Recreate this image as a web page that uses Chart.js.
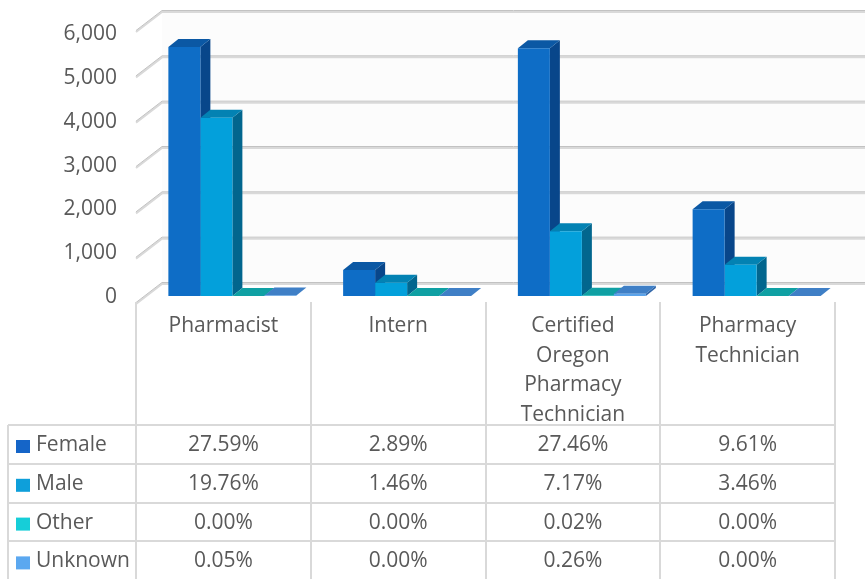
<!DOCTYPE html>
<html>
<head>
<meta charset="utf-8">
<script src="https://cdn.jsdelivr.net/npm/chart.js@4/dist/chart.umd.min.js"></script>
<style>
  html, body { margin: 0; padding: 0; background: #ffffff; }
  #wrap { width: 865px; height: 579px; }
</style>
</head>
<body>
<div id="wrap"><canvas id="c" width="865" height="579"></canvas></div>
<script>
// ---- Data ----
const categories = ['Pharmacist', 'Intern', 'Certified Oregon Pharmacy Technician', 'Pharmacy Technician'];
const categoryLines = [['Pharmacist'], ['Intern'], ['Certified', 'Oregon', 'Pharmacy', 'Technician'], ['Pharmacy', 'Technician']];
const seriesNames = ['Female', 'Male', 'Other', 'Unknown'];
const femaleCounts = [5493, 575, 5467, 1913];
const maleCounts = [3934, 291, 1428, 689];
const otherCounts = [0, 0, 4, 0];
const unknownCounts = [10, 0, 52, 0];
const femalePct = ['27.59%', '2.89%', '27.46%', '9.61%'];
const malePct = ['19.76%', '1.46%', '7.17%', '3.46%'];
const otherPct = ['0.00%', '0.00%', '0.02%', '0.00%'];
const unknownPct = ['0.05%', '0.00%', '0.26%', '0.00%'];
const yTicks = [0, 1000, 2000, 3000, 4000, 5000, 6000];

// ---- Styles ----
const frontColors = ['#0E6DC6', '#03A0DB', '#14C8D2', '#5BA3EA'];
const topColors = ['#0B58A4', '#0382B3', '#0FA0A3', '#3F7FC6'];
const sideColors = ['#08468A', '#02668E', '#0B7E85', '#2F65A8'];
const legendColors = ['#1565C8', '#0E9FDA', '#16CED8', '#5BA8F0'];
const pctRows = [femalePct, malePct, otherPct, unknownPct];
const countSeries = [femaleCounts, maleCounts, otherCounts, unknownCounts];

const TEXT = '#595959';
const GRID = '#d9d9d9';
const GRID_DARK = '#c2c2c2';
const FONT = '21px "Open Sans"';
const DEPTH = { dx: 10, dy: 8 };     // bar depth
const BACK = { dx: 17, dy: 13 };     // back wall offset from bar plane
const FRONT = { dx: -9, dy: 7 };     // front plane offset from bar plane

function poly(ctx, pts, color) {
  ctx.beginPath();
  ctx.moveTo(pts[0][0], pts[0][1]);
  for (let k = 1; k < pts.length; k++) ctx.lineTo(pts[k][0], pts[k][1]);
  ctx.closePath();
  ctx.fillStyle = color;
  ctx.fill();
}

const threeD = {
  id: 'threeD',
  beforeDatasetsDraw(chart) {
    const ctx = chart.ctx, area = chart.chartArea, ys = chart.scales.y;
    ctx.save();
    // faint back wall
    const yTop = ys.getPixelForValue(yTicks[yTicks.length - 1]) - BACK.dy;
    const yBot = ys.getPixelForValue(0) - BACK.dy;
    ctx.fillStyle = '#fcfcfc';
    ctx.fillRect(area.left + BACK.dx, yTop, chart.width - area.left - BACK.dx, yBot - yTop);
    // back wall gridlines + left wall slants
    yTicks.forEach(v => {
      const y = ys.getPixelForValue(v);
      ctx.lineWidth = 2;
      ctx.strokeStyle = GRID;
      ctx.beginPath();
      ctx.moveTo(area.left + FRONT.dx, y + FRONT.dy + 1);
      ctx.lineTo(area.left + BACK.dx, y - BACK.dy + 1);
      ctx.lineTo(chart.width, y - BACK.dy + 1);
      ctx.stroke();
      ctx.lineWidth = 1;
      ctx.strokeStyle = GRID_DARK;
      ctx.beginPath();
      ctx.moveTo(area.left + FRONT.dx, y + FRONT.dy - 0.5);
      ctx.lineTo(area.left + BACK.dx, y - BACK.dy - 0.5);
      ctx.lineTo(chart.width, y - BACK.dy - 0.5);
      ctx.stroke();
    });
    // side + top faces, in drawing order
    for (let i = 0; i < categories.length; i++) {
      for (let j = 0; j < chart.data.datasets.length; j++) {
        const el = chart.getDatasetMeta(j).data[i];
        const p = el.getProps(['x', 'y', 'base', 'width'], true);
        const l = p.x - p.width / 2, r = p.x + p.width / 2;
        if (p.base - p.y > 0.5) {
          poly(ctx, [[r, p.y], [r + DEPTH.dx, p.y - DEPTH.dy], [r + DEPTH.dx, p.base - DEPTH.dy], [r, p.base]], sideColors[j]);
        }
        poly(ctx, [[l, p.y], [r, p.y], [r + DEPTH.dx, p.y - DEPTH.dy], [l + DEPTH.dx, p.y - DEPTH.dy]], topColors[j]);
      }
    }
    ctx.restore();
  },
  afterDraw(chart) {
    const ctx = chart.ctx, area = chart.chartArea, ys = chart.scales.y, xs = chart.scales.x;
    const y0 = ys.getPixelForValue(0);
    ctx.save();
    // y tick labels
    ctx.font = FONT;
    ctx.fillStyle = TEXT;
    ctx.textAlign = 'right';
    ctx.textBaseline = 'alphabetic';
    yTicks.forEach(v => {
      const yv = ys.getPixelForValue(v);
      const yb = y0 + 7 - (y0 - yv) * 43.8 / 45.33;
      ctx.fillText(v.toLocaleString('en-US'), 117, yb);
    });
    // table grid
    const n = categories.length;
    const left = area.left + FRONT.dx;
    const colW = (area.right - area.left) / n;
    const right = left + n * colW;
    const headTop = y0 + 6;
    const tableTop = y0 + 129;
    const rowH = 38.8;
    ctx.strokeStyle = GRID;
    ctx.lineWidth = 2;
    for (let k = 0; k <= n; k++) {
      const x = Math.round(left + k * colW);
      ctx.beginPath();
      ctx.moveTo(x, headTop);
      ctx.lineTo(x, chart.height);
      ctx.stroke();
    }
    ctx.beginPath();
    ctx.moveTo(8, tableTop);
    ctx.lineTo(8, chart.height);
    ctx.stroke();
    for (let r = 0; r <= seriesNames.length; r++) {
      const y = Math.round(tableTop + r * rowH);
      ctx.beginPath();
      ctx.moveTo(8, y);
      ctx.lineTo(right, y);
      ctx.stroke();
    }
    // category labels
    ctx.textAlign = 'center';
    ctx.fillStyle = TEXT;
    categoryLines.forEach((lines, i) => {
      const cx = xs.getPixelForValue(i) + FRONT.dx;
      lines.forEach((t, k) => ctx.fillText(t, cx, y0 + 36 + k * 29.5));
    });
    // rows
    seriesNames.forEach((name, r) => {
      const top = tableTop + r * rowH;
      ctx.fillStyle = legendColors[r];
      ctx.fillRect(16, top + 15, 14, 13);
      ctx.fillStyle = TEXT;
      ctx.textAlign = 'left';
      ctx.fillText(name, 36, top + 26);
      ctx.textAlign = 'center';
      pctRows[r].forEach((t, i) => {
        const cx = xs.getPixelForValue(i) + FRONT.dx;
        ctx.fillText(t, cx, top + 26);
      });
    });
    ctx.restore();
  }
};

new Chart(document.getElementById('c'), {
  type: 'bar',
  data: {
    labels: categories,
    datasets: seriesNames.map((name, j) => ({
      label: name,
      data: countSeries[j],
      backgroundColor: frontColors[j],
      borderWidth: 0,
      categoryPercentage: 0.7325,
      barPercentage: 1.0
    }))
  },
  options: {
    responsive: false,
    animation: false,
    devicePixelRatio: 1,
    layout: { padding: { left: 145, right: 21, top: 24, bottom: 283 } },
    plugins: { legend: { display: false }, tooltip: { enabled: false } },
    scales: {
      x: { display: false },
      y: { display: false, min: 0, max: 6000 }
    }
  },
  plugins: [threeD]
});
</script>
</body>
</html>
